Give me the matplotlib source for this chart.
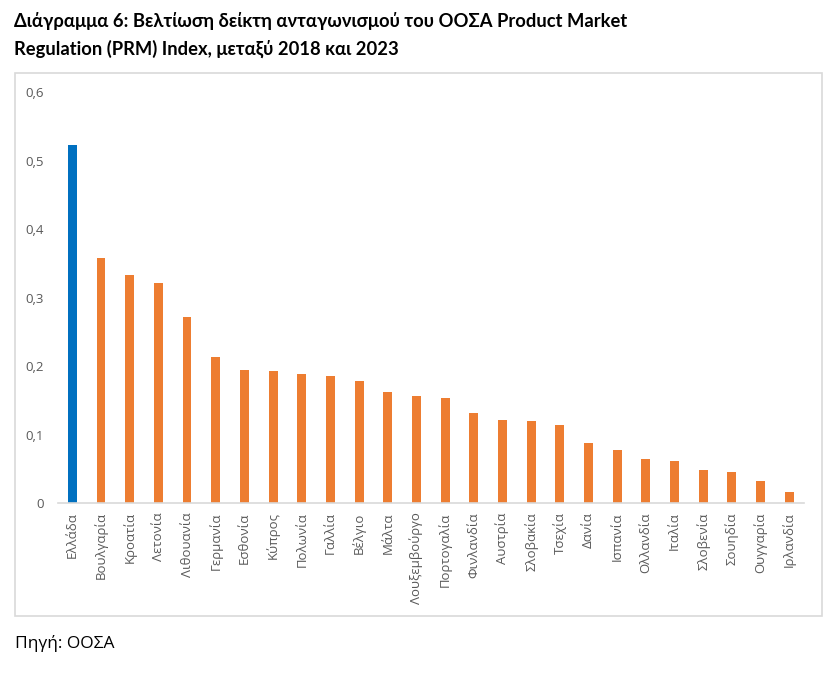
import numpy as np
import matplotlib.pyplot as plt
from matplotlib.patches import Rectangle

# PRM index improvement 2018 -> 2023
countries = ['Ελλάδα', 'Βουλγαρία', 'Κροατία', 'Λετονία', 'Λιθουανία', 'Γερμανία',
             'Εσθονία', 'Κύπρος', 'Πολωνία', 'Γαλλία', 'Βέλγιο', 'Μάλτα',
             'Λουξεμβούργο', 'Πορτογαλία', 'Φινλανδία', 'Αυστρία', 'Σλοβακία',
             'Τσεχία', 'Δανία', 'Ισπανία', 'Ολλανδία', 'Ιταλία', 'Σλοβενία',
             'Σουηδία', 'Ουγγαρία', 'Ιρλανδία']
values = [0.522, 0.358, 0.333, 0.322, 0.272, 0.214,
          0.195, 0.193, 0.189, 0.185, 0.178, 0.162,
          0.156, 0.154, 0.132, 0.122, 0.120,
          0.114, 0.088, 0.078, 0.065, 0.061, 0.049,
          0.045, 0.032, 0.017]
yticks = [0, 0.1, 0.2, 0.3, 0.4, 0.5, 0.6]
ytick_labels = ['0', '0,1', '0,2', '0,3', '0,4', '0,5', '0,6']

blue = '#0070C0'
orange = '#ED7D31'
grey = '#595959'

W, H = 831, 687
fig = plt.figure(figsize=(W / 100, H / 100), dpi=100)

# chart frame
fig.patches.append(Rectangle((15 / W, 1 - 616 / H), (822 - 15) / W, (616 - 73) / H,
                             transform=fig.transFigure, fill=False,
                             edgecolor='#d9d9d9', linewidth=1.2))

ax = fig.add_axes([58 / W, 1 - 503.3 / H, (803.6 - 58) / W, (503.3 - 92) / H])
x = np.arange(len(countries))
colors = [blue] + [orange] * (len(countries) - 1)
ax.bar(x, values, width=0.31, color=colors)

ax.set_xlim(-0.5, len(countries) - 0.5)
ax.set_ylim(0, 0.6)
ax.set_yticks(yticks)
ax.set_yticklabels(ytick_labels, fontsize=9.5, color=grey, family='Open Sans')
ax.set_xticks(x)
ax.set_xticklabels(countries, rotation=90, fontsize=9.5, color=grey, family='Open Sans')
ax.tick_params(axis='both', length=0)
ax.tick_params(axis='y', pad=10)
ax.tick_params(axis='x', pad=6.5)
for s in ['top', 'right', 'left']:
    ax.spines[s].set_visible(False)
ax.spines['bottom'].set_color('#d9d9d9')
ax.spines['bottom'].set_linewidth(1.2)

fig.text(14 / W, 1 - 21 / H, 'Διάγραμμα 6: Βελτίωση δείκτη ανταγωνισμού του ΟΟΣΑ Product Market',
         fontsize=13.2, fontweight='bold', family='Lato', va='center', ha='left')
fig.text(14 / W, 1 - 49 / H, 'Regulation (PRM) Index, μεταξύ 2018 και 2023',
         fontsize=13.2, fontweight='bold', family='Lato', va='center', ha='left')
fig.text(15 / W, 1 - 643 / H, 'Πηγή: ΟΟΣΑ', fontsize=12.5, family='Open Sans',
         va='center', ha='left')

fig.savefig('out.png', dpi=100)
